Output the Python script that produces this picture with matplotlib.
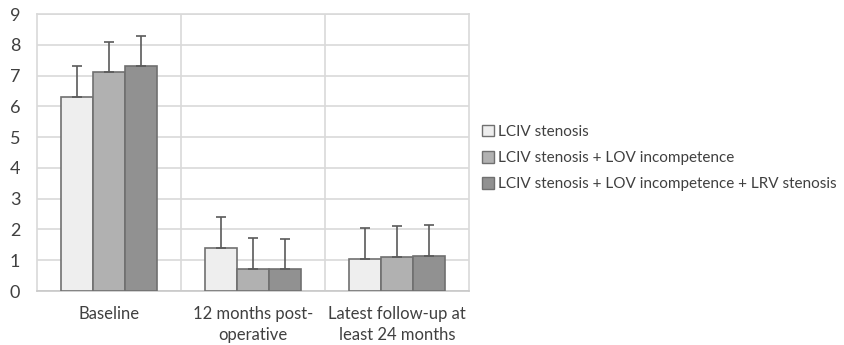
import numpy as np
import matplotlib.pyplot as plt
from matplotlib.patches import Patch

plt.rcParams['font.family'] = ['Lato', 'DejaVu Sans']

categories = ['Baseline', '12 months post-\noperative', 'Latest follow-up at\nleast 24 months']
series_names = ['LCIV stenosis',
                'LCIV stenosis + LOV incompetence',
                'LCIV stenosis + LOV incompetence + LRV stenosis']
means = [
    [6.3, 1.4, 1.05],
    [7.1, 0.73, 1.12],
    [7.3, 0.7, 1.13],
]
errors = [
    [1.0, 1.0, 1.0],
    [1.0, 1.0, 1.0],
    [1.0, 1.0, 1.0],
]
colors = ['#eeeeee', '#b1b1b1', '#919191']

fig = plt.figure(figsize=(8.45, 3.45), dpi=100)
ax = fig.add_axes([0.0438, 0.1565, 0.5112, 0.8029])

x = np.arange(len(categories))
width = 2 / 9
for i in range(3):
    ax.bar(x + (i - 1) * width, means[i], width, color=colors[i],
           edgecolor='#707070', linewidth=1.2, zorder=3)
    ax.errorbar(x + (i - 1) * width, means[i], yerr=[np.zeros(3), errors[i]],
                fmt='none', ecolor='#5a5a5a', elinewidth=1.2, capsize=3.5,
                capthick=1.2, zorder=4)

ax.set_xlim(-0.5, 2.5)
ax.set_ylim(0, 9)
ax.set_yticks(range(10))
ax.set_xticks(x)
ax.set_xticklabels(categories, fontsize=12, color='#404040', linespacing=1.35)
ax.tick_params(axis='y', labelsize=13, colors='#404040', length=0, pad=12)
ax.tick_params(axis='x', length=0, pad=11)
ax.yaxis.grid(True, color='#d9d9d9', linewidth=1.2, zorder=0)
for xv in [0.5, 1.5]:
    ax.axvline(xv, color='#d9d9d9', linewidth=1.2, zorder=0)
for s in ax.spines.values():
    s.set_color('#d9d9d9')
    s.set_linewidth(1.2)
ax.spines['bottom'].set_color('#c8c8c8')

handles = [Patch(facecolor=colors[i], edgecolor='#707070', linewidth=1.0)
           for i in range(3)]
fig.legend(handles, series_names, loc='center left',
           bbox_to_anchor=(0.570, 0.542), frameon=False, fontsize=11,
           borderpad=0, borderaxespad=0,
           handlelength=0.8, handleheight=0.8, handletextpad=0.3,
           labelspacing=0.8, labelcolor='#404040')

fig.savefig('out.png', dpi=100)
